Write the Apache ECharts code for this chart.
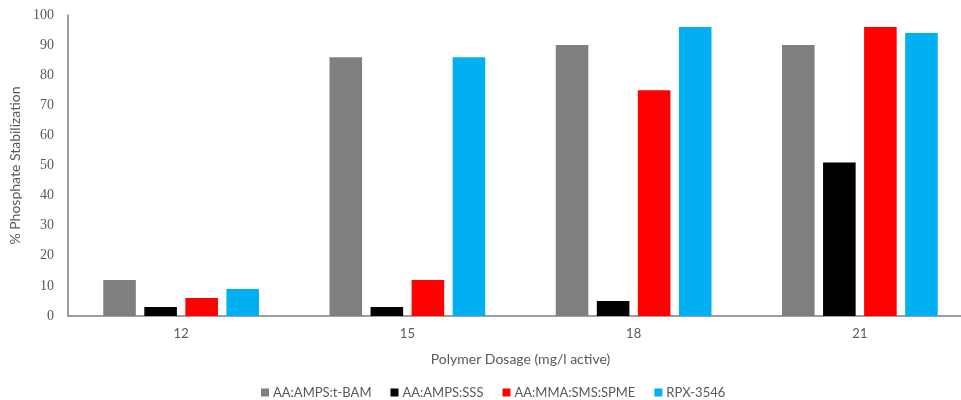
<!DOCTYPE html>
<html>
<head>
<meta charset="utf-8">
<script src="https://cdn.jsdelivr.net/npm/echarts@6/dist/echarts.min.js"></script>
<style>html,body{margin:0;padding:0;background:#fff;overflow:hidden;width:961px;height:400px;}#c{width:973px;height:400px;}</style>
</head>
<body>
<div id="c"></div>
<script>
const categories = ['12', '15', '18', '21'];
const seriesNames = ['AA:AMPS:t-BAM', 'AA:AMPS:SSS', 'AA:MMA:SMS:SPME', 'RPX-3546'];
const tBAM = [12, 86, 90, 90];
const SSS = [3, 3, 5, 51];
const SPME = [6, 12, 75, 96];
const RPX = [9, 86, 96, 94];
const yTicks = [0, 10, 20, 30, 40, 50, 60, 70, 80, 90, 100];
const colors = ['#7f7f7f', '#000000', '#ff0000', '#00b0f0'];
const values = [tBAM, SSS, SPME, RPX];

const chart = echarts.init(document.getElementById('c'));
const txt = '#595959';
chart.setOption({
  animation: false,
  backgroundColor: '#ffffff',
  grid: { left: 68, right: 0, top: 15, bottom: 84, containLabel: false },
  legend: {
    left: 256, top: 381,
    itemWidth: 8, itemHeight: 8, itemGap: 19,
    icon: 'rect',
    textStyle: { color: txt, fontSize: 13, fontFamily: 'Lato', padding: [0, 0, 0, -1] },
    data: seriesNames
  },
  xAxis: {
    type: 'category',
    data: categories,
    name: 'Polymer Dosage (mg/l active)',
    nameLocation: 'middle',
    nameGap: 36,
    nameTextStyle: { color: txt, fontSize: 14, fontFamily: 'Lato' },
    axisLine: { lineStyle: { color: '#7f7f7f', width: 1.5 } },
    axisTick: { show: false },
    axisLabel: { color: txt, fontSize: 13, fontFamily: 'Lato', margin: 11 }
  },
  yAxis: {
    type: 'value',
    min: yTicks[0], max: yTicks[yTicks.length - 1], interval: 10,
    name: '% Phosphate Stabilization',
    nameLocation: 'middle',
    nameGap: 41,
    nameTextStyle: { color: txt, fontSize: 14, fontFamily: 'Lato' },
    axisLine: { show: true, lineStyle: { color: '#7f7f7f', width: 1.5 } },
    axisTick: { show: false },
    splitLine: { show: false },
    axisLabel: { color: txt, fontSize: 14, fontFamily: 'Liberation Serif', margin: 14 }
  },
  series: seriesNames.map((n, i) => ({
    name: n,
    type: 'bar',
    data: values[i],
    barWidth: '14.4%',
    barGap: '26%',
    itemStyle: { color: colors[i] }
  }))
});
</script>
</body>
</html>
